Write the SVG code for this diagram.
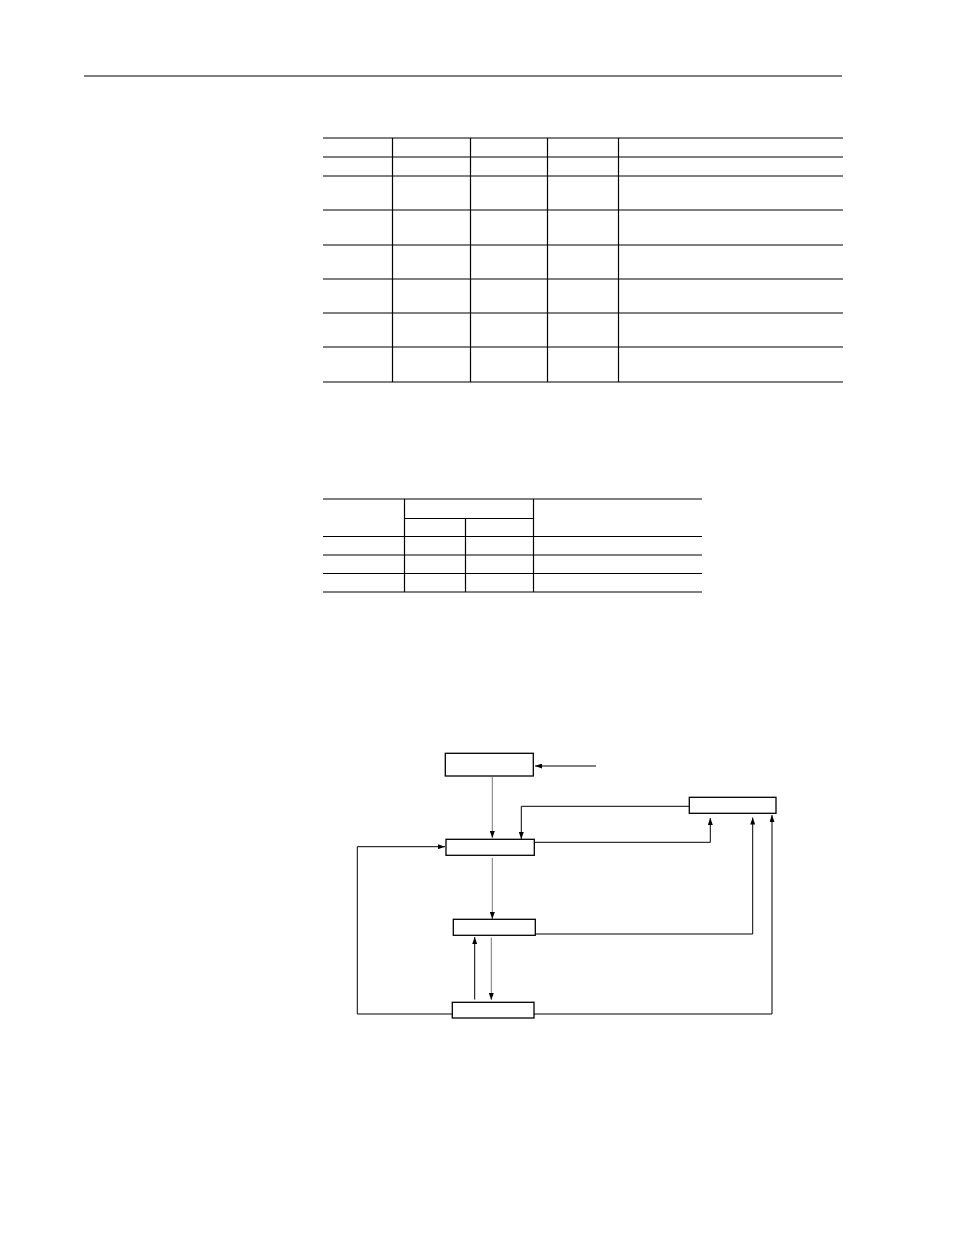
<svg xmlns="http://www.w3.org/2000/svg" width="954" height="1235" viewBox="0 0 954 1235">
<style>
.rule{stroke:#000;stroke-width:1.2;fill:none}
.box{fill:#fff;stroke:#000;stroke-width:1.3}
.con{stroke:#000;stroke-width:1;fill:none}
.thin{stroke:#555;stroke-width:0.8;fill:none}
</style>
<defs>
<marker id="ah" markerWidth="7" markerHeight="5" refX="7" refY="2.5" orient="auto" markerUnits="userSpaceOnUse">
<path d="M0,0 L7,2.5 L0,5 Z" fill="#000"/>
</marker>
</defs>
<rect width="954" height="1235" fill="#fff"/>
<line class="rule" x1="84" y1="76" x2="842" y2="76"/>
<g id="table1">
<line class="rule" x1="323" y1="138" x2="843" y2="138"/>
<line class="rule" x1="323" y1="157" x2="843" y2="157"/>
<line class="rule" x1="323" y1="176" x2="843" y2="176"/>
<line class="rule" x1="323" y1="210" x2="843" y2="210"/>
<line class="rule" x1="323" y1="245" x2="843" y2="245"/>
<line class="rule" x1="323" y1="279" x2="843" y2="279"/>
<line class="rule" x1="323" y1="313" x2="843" y2="313"/>
<line class="rule" x1="323" y1="347" x2="843" y2="347"/>
<line class="rule" x1="323" y1="382" x2="843" y2="382"/>
<line class="rule" x1="392.5" y1="138" x2="392.5" y2="382"/>
<line class="rule" x1="470.5" y1="138" x2="470.5" y2="382"/>
<line class="rule" x1="547.5" y1="138" x2="547.5" y2="382"/>
<line class="rule" x1="618.5" y1="138" x2="618.5" y2="382"/>
</g>
<g id="table2">
<line class="rule" x1="323" y1="499" x2="702" y2="499"/>
<line class="rule" x1="404" y1="518.5" x2="534" y2="518.5"/>
<line class="rule" x1="323" y1="536.5" x2="702" y2="536.5"/>
<line class="rule" x1="323" y1="555" x2="702" y2="555"/>
<line class="rule" x1="323" y1="573.5" x2="702" y2="573.5"/>
<line class="rule" x1="323" y1="592" x2="702" y2="592"/>
<line class="rule" x1="404.5" y1="499" x2="404.5" y2="592"/>
<line class="rule" x1="465.5" y1="518.5" x2="465.5" y2="592"/>
<line class="rule" x1="533.5" y1="499" x2="533.5" y2="592"/>
</g>
<g id="connectors">
<line class="con" x1="596" y1="766" x2="535" y2="766" marker-end="url(#ah)"/>
<line class="thin" x1="492.3" y1="777" x2="492.3" y2="838" marker-end="url(#ah)"/>
<polyline class="con" points="689,806.3 521.3,806.3 521.3,839" marker-end="url(#ah)"/>
<polyline class="con" points="534,842.3 710.3,842.3 710.3,818" marker-end="url(#ah)"/>
<polyline class="con" points="452,1014 357.3,1014 357.3,846.7 445,846.7" marker-end="url(#ah)"/>
<line class="thin" x1="492.3" y1="858" x2="492.3" y2="919" marker-end="url(#ah)"/>
<polyline class="con" points="535,934 752.7,934 752.7,817.5" marker-end="url(#ah)"/>
<line class="con" x1="474.7" y1="999.5" x2="474.7" y2="937" marker-end="url(#ah)"/>
<line class="thin" x1="491.3" y1="937.5" x2="491.3" y2="1000" marker-end="url(#ah)"/>
<polyline class="con" points="534,1014 772,1014 772,815" marker-end="url(#ah)"/>
</g>
<g id="nodeA"><rect class="box" x="445.3" y="753.3" width="88" height="22.7"/></g>
<g id="nodeB"><rect class="box" x="689.3" y="797.3" width="86.7" height="16"/></g>
<g id="nodeC"><rect class="box" x="446" y="839.3" width="88.3" height="16"/></g>
<g id="nodeD"><rect class="box" x="453.3" y="919.3" width="82" height="16"/></g>
<g id="nodeE"><rect class="box" x="452.3" y="1002.3" width="81.7" height="15.7"/></g>
</svg>
